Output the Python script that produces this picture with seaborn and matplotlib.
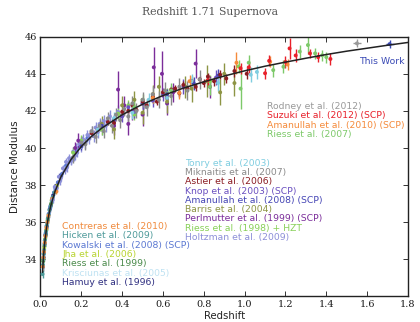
import matplotlib
matplotlib.use("Agg")
import matplotlib.pyplot as plt
import numpy as np
import pandas as pd
import seaborn as sns

# ---- supernova samples: (redshift, distance modulus, 1-sigma error) ----
HAMUY_1996 = [(0.012, 33.55, 0.20), (0.015, 34.10, 0.18), (0.017, 34.40, 0.15),
              (0.021, 35.00, 0.15), (0.024, 35.30, 0.15), (0.028, 35.55, 0.15),
              (0.031, 35.80, 0.14), (0.038, 36.25, 0.14), (0.045, 36.70, 0.14),
              (0.050, 36.90, 0.15), (0.062, 37.45, 0.15), (0.075, 37.95, 0.15),
              (0.100, 38.50, 0.16)]
KRISCIUNAS_2005 = [(0.011, 33.50, 0.15), (0.016, 34.20, 0.14), (0.022, 35.00, 0.12),
                   (0.027, 35.50, 0.12), (0.033, 35.90, 0.12)]
RIESS_1999 = [(0.013, 33.90, 0.20), (0.019, 34.70, 0.18), (0.026, 35.35, 0.16),
              (0.035, 36.10, 0.15), (0.052, 37.00, 0.15)]
JHA_2006 = [(0.014, 34.00, 0.16), (0.018, 34.60, 0.16), (0.023, 35.10, 0.15),
            (0.029, 35.60, 0.14), (0.036, 36.20, 0.14), (0.055, 37.20, 0.15),
            (0.080, 37.95, 0.15)]
KOWALSKI_2008 = [(0.015, 34.30, 0.15), (0.020, 34.85, 0.15), (0.025, 35.40, 0.14),
                 (0.030, 35.75, 0.14), (0.040, 36.45, 0.14), (0.047, 36.80, 0.14),
                 (0.058, 37.30, 0.14), (0.066, 37.60, 0.14), (0.073, 37.80, 0.15),
                 (0.085, 38.15, 0.15), (0.105, 38.60, 0.18), (0.125, 39.05, 0.20),
                 (0.150, 39.35, 0.20), (0.180, 39.90, 0.22), (0.230, 40.55, 0.25)]
HICKEN_2009 = [(0.010, 33.20, 0.20), (0.012, 33.70, 0.18), (0.014, 34.00, 0.17),
               (0.016, 34.30, 0.16), (0.018, 34.50, 0.16), (0.020, 34.80, 0.15),
               (0.022, 35.05, 0.15), (0.025, 35.30, 0.15), (0.027, 35.50, 0.14),
               (0.030, 35.80, 0.14), (0.033, 35.95, 0.14), (0.036, 36.20, 0.14),
               (0.040, 36.40, 0.14), (0.044, 36.65, 0.14), (0.049, 36.85, 0.14),
               (0.055, 37.15, 0.15), (0.060, 37.35, 0.15), (0.068, 37.60, 0.15)]
CONTRERAS_2010 = [(0.011, 33.60, 0.15), (0.014, 34.10, 0.14), (0.017, 34.40, 0.14),
                  (0.021, 34.90, 0.14), (0.024, 35.25, 0.13), (0.029, 35.70, 0.13),
                  (0.034, 36.00, 0.13), (0.039, 36.35, 0.13), (0.057, 37.25, 0.13),
                  (0.078, 37.65, 0.13)]
HOLTZMAN_2009 = [(0.060, 37.20, 0.15), (0.070, 37.90, 0.15), (0.080, 37.85, 0.18),
                 (0.090, 38.45, 0.18), (0.100, 38.40, 0.18), (0.110, 38.90, 0.20),
                 (0.120, 38.80, 0.20), (0.125, 39.25, 0.20), (0.130, 38.95, 0.22),
                 (0.140, 39.45, 0.22), (0.150, 39.30, 0.22), (0.160, 39.80, 0.25),
                 (0.170, 39.60, 0.25), (0.175, 40.00, 0.25), (0.180, 39.75, 0.25),
                 (0.190, 40.20, 0.25), (0.200, 40.05, 0.28), (0.210, 40.45, 0.28),
                 (0.220, 40.25, 0.28), (0.230, 40.70, 0.28), (0.240, 40.50, 0.30),
                 (0.250, 40.90, 0.30), (0.260, 40.65, 0.30), (0.270, 41.10, 0.30),
                 (0.280, 40.85, 0.32), (0.290, 41.30, 0.32), (0.300, 41.00, 0.32),
                 (0.310, 41.45, 0.32), (0.320, 41.20, 0.35), (0.340, 41.70, 0.35),
                 (0.360, 41.45, 0.35), (0.380, 41.95, 0.35), (0.095, 38.20, 0.18),
                 (0.135, 39.20, 0.22), (0.165, 39.55, 0.25), (0.205, 40.35, 0.28)]
RIESS_1998 = [(0.160, 39.75, 0.30), (0.200, 40.40, 0.30), (0.300, 41.00, 0.30),
              (0.380, 41.85, 0.30), (0.430, 42.30, 0.30), (0.460, 41.80, 0.30),
              (0.500, 42.60, 0.30), (0.620, 42.95, 0.30), (0.830, 43.60, 0.35),
              (0.970, 44.40, 0.35)]
PERLMUTTER_1999 = [(0.170, 40.00, 0.35), (0.185, 40.40, 0.40), (0.360, 41.20, 0.50),
                   (0.380, 43.15, 1.00), (0.410, 42.30, 0.50), (0.430, 41.30, 0.60),
                   (0.450, 42.00, 0.50), (0.500, 41.80, 0.60), (0.555, 44.35, 1.10),
                   (0.595, 44.00, 1.25), (0.620, 42.40, 0.60), (0.650, 43.00, 0.50),
                   (0.760, 44.55, 0.80), (0.830, 43.30, 0.60)]
BARRIS_2004 = [(0.300, 41.30, 0.40), (0.360, 41.00, 0.50), (0.400, 42.30, 0.50),
               (0.460, 42.60, 0.50), (0.500, 41.90, 0.60), (0.550, 42.90, 0.50),
               (0.580, 43.30, 0.60), (0.620, 42.50, 0.60), (0.710, 43.30, 0.60),
               (0.740, 43.20, 0.70), (0.815, 43.60, 0.85), (0.880, 43.00, 0.70),
               (0.900, 44.00, 0.60), (0.950, 43.50, 0.70)]
AMANULLAH_2008 = [(0.200, 40.10, 0.20), (0.300, 41.20, 0.25), (0.500, 42.40, 0.30),
                  (0.620, 42.90, 0.30), (0.750, 43.50, 0.35), (0.870, 43.90, 0.35)]
KNOP_2003 = [(0.360, 41.50, 0.30), (0.400, 41.70, 0.30), (0.430, 42.20, 0.30),
             (0.460, 41.95, 0.35), (0.500, 42.40, 0.30), (0.550, 42.55, 0.35),
             (0.600, 42.90, 0.35), (0.700, 43.30, 0.40), (0.860, 43.80, 0.40)]
ASTIER_2006 = [(0.25, 40.80, 0.15), (0.28, 41.00, 0.15), (0.33, 41.40, 0.15),
               (0.36, 41.35, 0.15), (0.40, 41.95, 0.15), (0.43, 42.00, 0.15),
               (0.45, 42.30, 0.15), (0.47, 42.05, 0.15), (0.50, 42.50, 0.15),
               (0.52, 42.30, 0.15), (0.55, 42.75, 0.20), (0.57, 42.50, 0.20),
               (0.60, 43.00, 0.20), (0.62, 42.70, 0.20), (0.64, 43.15, 0.20),
               (0.66, 43.20, 0.20), (0.68, 42.95, 0.20), (0.70, 43.40, 0.20),
               (0.72, 43.20, 0.20), (0.74, 43.60, 0.20), (0.76, 43.30, 0.20),
               (0.78, 43.70, 0.20), (0.80, 43.50, 0.20), (0.82, 43.85, 0.20),
               (0.85, 43.60, 0.25), (0.88, 43.95, 0.25), (0.91, 43.75, 0.25),
               (0.95, 44.15, 0.30), (1.01, 44.00, 0.30)]
MIKNAITIS_2007 = [(0.16, 39.50, 0.30), (0.20, 40.30, 0.30), (0.22, 40.20, 0.30),
                  (0.25, 40.90, 0.30), (0.27, 40.60, 0.35), (0.29, 41.20, 0.30),
                  (0.31, 40.90, 0.35), (0.33, 41.60, 0.35), (0.35, 41.20, 0.40),
                  (0.37, 41.80, 0.35), (0.39, 41.50, 0.40), (0.41, 42.10, 0.35),
                  (0.43, 41.70, 0.40), (0.45, 42.40, 0.40), (0.47, 42.00, 0.40),
                  (0.50, 42.60, 0.40), (0.52, 42.20, 0.45), (0.55, 42.90, 0.45),
                  (0.58, 42.60, 0.45), (0.61, 43.10, 0.45), (0.64, 42.80, 0.50),
                  (0.68, 43.30, 0.50), (0.72, 43.10, 0.50), (0.78, 43.70, 0.50)]
TONRY_2003 = [(0.28, 41.00, 0.30), (0.36, 41.60, 0.35), (0.45, 41.90, 0.35),
              (0.53, 42.60, 0.35), (0.62, 42.70, 0.40), (0.74, 43.60, 0.40),
              (0.87, 43.50, 0.45), (1.03, 43.95, 0.40), (1.06, 44.10, 0.40)]
RIESS_2007 = [(0.46, 42.20, 0.35), (0.64, 43.10, 0.40), (0.83, 43.30, 0.45),
              (0.98, 43.20, 1.10), (1.02, 44.60, 0.40), (1.14, 44.20, 0.35),
              (1.19, 44.38, 0.35), (1.27, 45.20, 0.35), (1.31, 45.55, 0.50),
              (1.345, 45.10, 0.30), (1.38, 45.00, 0.30), (1.40, 44.90, 0.30)]
AMANULLAH_2010 = [(0.55, 42.70, 0.30), (0.68, 42.97, 0.35), (0.73, 43.60, 0.35),
                  (0.96, 44.60, 0.60), (1.125, 44.65, 0.30), (1.21, 44.50, 0.30)]
SUZUKI_2012 = [(0.82, 43.66, 0.30), (0.98, 44.30, 0.30), (1.02, 44.35, 0.30),
               (1.10, 44.03, 0.30), (1.12, 44.70, 0.30), (1.20, 44.64, 0.30),
               (1.22, 45.37, 0.55), (1.25, 44.99, 0.35), (1.32, 45.10, 0.25),
               (1.36, 44.90, 0.25), (1.42, 44.80, 0.30)]
RODNEY_2012 = [(1.55, 45.64, 0.22)]
THIS_WORK = [(1.71, 45.60, 0.20)]

# flat Lambda-CDM distance modulus curve
MODEL_Z = [0.01, 0.015, 0.02, 0.03, 0.04, 0.05, 0.07, 0.1, 0.15, 0.2, 0.25, 0.3,
           0.4, 0.5, 0.6, 0.7, 0.8, 0.9, 1.0, 1.1, 1.2, 1.3, 1.4, 1.5, 1.6,
           1.7, 1.8]
MODEL_MU = [33.30, 34.19, 34.82, 35.72, 36.36, 36.87, 37.63, 38.44, 39.39, 40.08,
            40.63, 41.07, 41.79, 42.36, 42.83, 43.23, 43.57, 43.88, 44.16, 44.41,
            44.63, 44.84, 45.04, 45.22, 45.38, 45.54, 45.69]

SAMPLES = {
    "Hamuy et al. (1996)": HAMUY_1996,
    "Krisciunas et al. (2005)": KRISCIUNAS_2005,
    "Riess et al. (1999)": RIESS_1999,
    "Jha et al. (2006)": JHA_2006,
    "Kowalski et al. (2008) (SCP)": KOWALSKI_2008,
    "Hicken et al. (2009)": HICKEN_2009,
    "Contreras et al. (2010)": CONTRERAS_2010,
    "Holtzman et al. (2009)": HOLTZMAN_2009,
    "Riess et al. (1998) + HZT": RIESS_1998,
    "Perlmutter et al. (1999) (SCP)": PERLMUTTER_1999,
    "Barris et al. (2004)": BARRIS_2004,
    "Amanullah et al. (2008) (SCP)": AMANULLAH_2008,
    "Knop et al. (2003) (SCP)": KNOP_2003,
    "Astier et al. (2006)": ASTIER_2006,
    "Miknaitis et al. (2007)": MIKNAITIS_2007,
    "Tonry et al. (2003)": TONRY_2003,
    "Riess et al. (2007)": RIESS_2007,
    "Amanullah et al. (2010) (SCP)": AMANULLAH_2010,
    "Suzuki et al. (2012) (SCP)": SUZUKI_2012,
    "Rodney et al. (2012)": RODNEY_2012,
    "This Work": THIS_WORK,
}

COLORS = {
    "Hamuy et al. (1996)": "#2e2e80",
    "Krisciunas et al. (2005)": "#bfe2f2",
    "Riess et al. (1999)": "#4a8a4a",
    "Jha et al. (2006)": "#b8d430",
    "Kowalski et al. (2008) (SCP)": "#5b78d2",
    "Hicken et al. (2009)": "#4e9a9a",
    "Contreras et al. (2010)": "#f08a3c",
    "Holtzman et al. (2009)": "#8c8fd8",
    "Riess et al. (1998) + HZT": "#88d058",
    "Perlmutter et al. (1999) (SCP)": "#7b2d9a",
    "Barris et al. (2004)": "#8d9444",
    "Amanullah et al. (2008) (SCP)": "#4545b5",
    "Knop et al. (2003) (SCP)": "#6a50c0",
    "Astier et al. (2006)": "#8b1c22",
    "Miknaitis et al. (2007)": "#8a8a8a",
    "Tonry et al. (2003)": "#7fcde0",
    "Riess et al. (2007)": "#7dc96a",
    "Amanullah et al. (2010) (SCP)": "#f58a3a",
    "Suzuki et al. (2012) (SCP)": "#e8202a",
    "Rodney et al. (2012)": "#999999",
    "This Work": "#3a4ab5",
}

LABELS_RIGHT = ["Rodney et al. (2012)", "Suzuki et al. (2012) (SCP)",
                "Amanullah et al. (2010) (SCP)", "Riess et al. (2007)"]
LABELS_MIDDLE = ["Tonry et al. (2003)", "Miknaitis et al. (2007)", "Astier et al. (2006)",
                 "Knop et al. (2003) (SCP)", "Amanullah et al. (2008) (SCP)",
                 "Barris et al. (2004)", "Perlmutter et al. (1999) (SCP)",
                 "Riess et al. (1998) + HZT", "Holtzman et al. (2009)"]
LABELS_LEFT = ["Contreras et al. (2010)", "Hicken et al. (2009)",
               "Kowalski et al. (2008) (SCP)", "Jha et al. (2006)",
               "Riess et al. (1999)", "Krisciunas et al. (2005)", "Hamuy et al. (1996)"]

rows = [(name, z, mu, err) for name, pts in SAMPLES.items() for z, mu, err in pts]
df = pd.DataFrame(rows, columns=["sample", "z", "mu", "err"])

sns.set_theme(style="ticks")
fig = plt.figure(figsize=(4.2, 3.22), dpi=100)
ax = fig.add_axes([0.0964, 0.0795, 0.875, 0.8065])

for name in SAMPLES:
    sub = df[df["sample"] == name]
    xerr = 0.02 if name in ("This Work", "Rodney et al. (2012)") else None
    ax.errorbar(sub["z"], sub["mu"], yerr=sub["err"], xerr=xerr, fmt="none",
                ecolor=COLORS[name], elinewidth=1.0, capsize=0, zorder=2)

sns.scatterplot(data=df, x="z", y="mu", hue="sample", palette=COLORS,
                s=8, linewidth=0, legend=False, ax=ax, zorder=3)

sns.lineplot(x=MODEL_Z, y=MODEL_MU, color="#222222", linewidth=1.1, ax=ax,
             zorder=4)

ax.set_xlim(0.0, 1.8)
ax.set_ylim(32.0, 46.0)
ax.set_xticks(np.arange(0.0, 1.81, 0.2))
ax.set_yticks(np.arange(34, 47, 2))
ax.set_xticklabels([f"{v:.1f}" for v in np.arange(0.0, 1.81, 0.2)])
ax.set_yticklabels([f"{v}" for v in range(34, 47, 2)])
for lab in ax.get_xticklabels() + ax.get_yticklabels():
    lab.set_family("DejaVu Serif")
    lab.set_fontsize(7.0)
    lab.set_color("#1a1a1a")
ax.tick_params(direction="in", length=3.5, width=0.7, top=True, right=True,
               pad=2.5, color="#333333")
for sp in ax.spines.values():
    sp.set_linewidth(1.0)
    sp.set_color("#222222")

ax.set_xlabel("Redshift", fontsize=7.3, family="DejaVu Sans", color="#222222",
              labelpad=1.5)
ax.set_ylabel("Distance Modulus", fontsize=7.5, family="DejaVu Sans",
              color="#222222", labelpad=3)
fig.text(0.5, 0.962, "Redshift 1.71 Supernova", ha="center", va="center",
         family="DejaVu Serif", fontsize=7.8, color="#555555")

FS = 6.7
step = 0.5
for i, name in enumerate(LABELS_RIGHT):
    ax.text(1.11, 42.23 - i * step, name, color=COLORS[name], fontsize=FS,
            ha="left", va="center", family="DejaVu Sans")
for i, name in enumerate(LABELS_MIDDLE):
    ax.text(0.708, 39.18 - i * step, name, color=COLORS[name], fontsize=FS,
            ha="left", va="center", family="DejaVu Sans")
for i, name in enumerate(LABELS_LEFT):
    ax.text(0.107, 35.76 - i * 0.503, name, color=COLORS[name], fontsize=FS,
            ha="left", va="center", family="DejaVu Sans")
ax.text(1.782, 44.65, "This Work", color=COLORS["This Work"], fontsize=FS,
        ha="right", va="center", family="DejaVu Sans")

fig.savefig("out.png", dpi=100, facecolor="white")
